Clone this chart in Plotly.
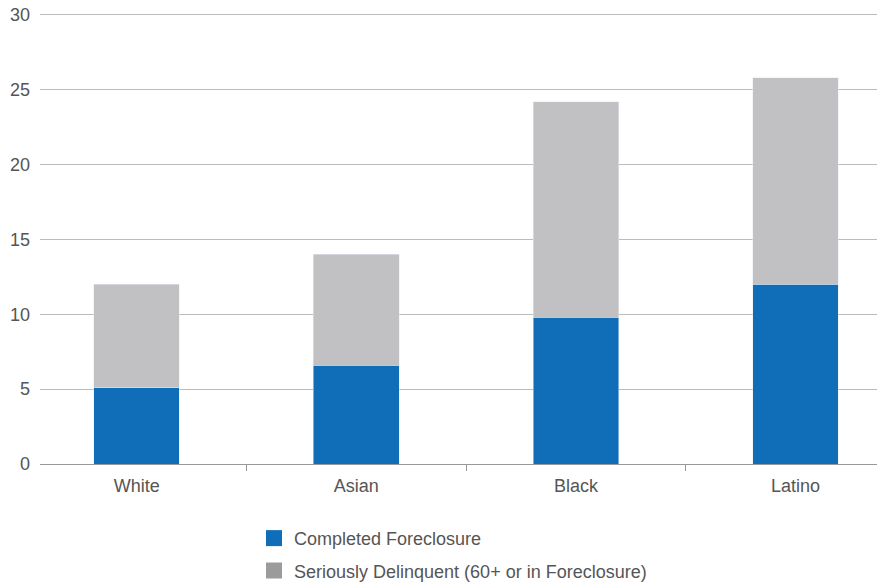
import plotly.graph_objects as go

categories = ["White", "Asian", "Black", "Latino"]
completed = [5.1, 6.6, 9.8, 12.0]
delinquent_total = [12.0, 14.0, 24.2, 25.8]
delinquent = [round(t - c, 2) for t, c in zip(delinquent_total, completed)]
y_ticks = [0, 5, 10, 15, 20, 25, 30]

blue = "#106eb8"
gray_bar = "#c1c1c3"
gray_legend = "#9b9b9b"
font_family = "Liberation Sans, Arial, Helvetica, sans-serif"

fig = go.Figure()
fig.add_trace(go.Bar(x=categories, y=completed, marker_color=blue, width=0.39,
                     showlegend=False, hoverinfo="skip"))
fig.add_trace(go.Bar(x=categories, y=delinquent, marker_color=gray_bar, width=0.39,
                     showlegend=False, hoverinfo="skip"))
# legend entries
fig.add_trace(go.Scatter(x=[None], y=[None], mode="markers", name="Completed Foreclosure",
                         marker=dict(symbol="square", size=18, color=blue), legendgroup="a"))
fig.add_trace(go.Scatter(x=[None], y=[None], mode="markers",
                         name="Seriously Delinquent (60+ or in Foreclosure)",
                         marker=dict(symbol="square", size=18, color=gray_legend), legendgroup="b"))

fig.update_layout(
    width=877, height=583,
    margin=dict(l=40, r=0, t=12, b=119, autoexpand=False),
    barmode="stack",
    plot_bgcolor="white", paper_bgcolor="white",
    font=dict(family=font_family, size=18, color="#555555"),
    legend=dict(orientation="v", x=0.2557, xanchor="left", y=-0.1237, yanchor="top",
                font=dict(size=18, color="#555555"), tracegroupgap=6,
                itemwidth=30),
)
fig.update_xaxes(type="category", range=[-0.44, 3.371], showgrid=False, automargin=False,
                 showline=True, linecolor="#999999", linewidth=1,
                 ticks="outside", tickson="boundaries", ticklen=6, tickcolor="#999999",
                 ticklabelstandoff=5,
                 tickfont=dict(size=18, color="#555555"))
fig.update_yaxes(range=[0, 30.2], tickvals=y_ticks, showgrid=True, gridcolor="#bbbbbb",
                 gridwidth=1, zeroline=False, showline=False, ticks="", automargin=False,
                 ticklabelstandoff=9, ticklabeloverflow="allow",
                 tickfont=dict(size=18, color="#555555"))

fig.write_html("out.html", config={"displayModeBar": False},
               post_script="document.body.style.margin='0';")
